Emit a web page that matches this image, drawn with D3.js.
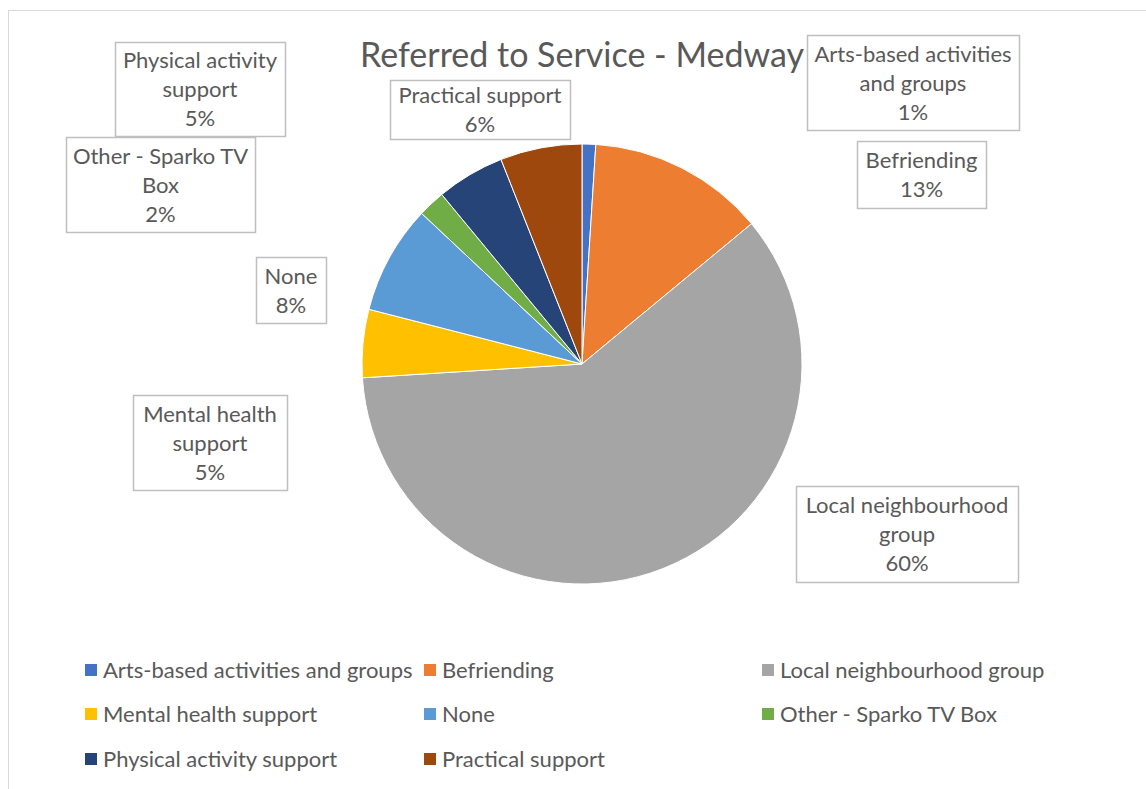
<!DOCTYPE html>
<html>
<head>
<meta charset="utf-8">
<script src="https://cdn.jsdelivr.net/npm/d3@7"></script>
<style>
  html, body { margin: 0; padding: 0; background: #fff; }
  svg { display: block; }
  text { font-family: Lato, "Open Sans", sans-serif; fill: #595959; }
</style>
</head>
<body>
<svg id="chart" width="1146" height="789"></svg>
<script>
// Referral counts shown as shares of all referrals (percent)
const categories = [
  "Arts-based activities and groups",
  "Befriending",
  "Local neighbourhood group",
  "Mental health support",
  "None",
  "Other - Sparko TV Box",
  "Physical activity support",
  "Practical support"
];
const shares = [1, 13, 60, 5, 8, 2, 5, 6];
const sliceColors = ["#4472C4", "#ED7D31", "#A5A5A5", "#FFC000", "#5B9BD5", "#70AD47", "#264478", "#9E480E"];

// Data-label text broken into lines, with the label box placement
const labelLines = [
  ["Arts-based activities", "and groups"],
  ["Befriending"],
  ["Local neighbourhood", "group"],
  ["Mental health", "support"],
  ["None"],
  ["Other - Sparko TV", "Box"],
  ["Physical activity", "support"],
  ["Practical support"]
];
const labelBoxes = [
  {x: 807, y: 35, w: 212, h: 95},
  {x: 857, y: 141, w: 129, h: 67},
  {x: 796, y: 486, w: 222, h: 96},
  {x: 133, y: 395, w: 154, h: 95},
  {x: 256, y: 257, w: 70, h: 66},
  {x: 66, y: 137, w: 189, h: 95},
  {x: 115, y: 42, w: 170, h: 94},
  {x: 390, y: 80, w: 180, h: 59}
];

const svg = d3.select("#chart");

// Chart area frame
svg.append("rect")
  .attr("x", 8.5).attr("y", 10.5)
  .attr("width", 1150).attr("height", 800)
  .attr("fill", "#fff")
  .attr("stroke", "#d9d9d9").attr("stroke-width", 1);

// Title
svg.append("text")
  .attr("x", 582).attr("y", 67)
  .attr("text-anchor", "middle")
  .style("font-size", "34px")
  .text("Referred to Service - Medway");

// Pie
const cx = 582, cy = 364, radius = 220;
const color = d3.scaleOrdinal().domain(categories).range(sliceColors);
const pie = d3.pie().value(d => d.value).sort(null);
const arc = d3.arc().innerRadius(0).outerRadius(radius);
const data = categories.map((c, i) => ({name: c, value: shares[i]}));

const g = svg.append("g").attr("transform", `translate(${cx},${cy})`);
g.selectAll("path")
  .data(pie(data))
  .join("path")
  .attr("d", arc)
  .attr("fill", d => color(d.data.name))
  .attr("stroke", "#fff")
  .attr("stroke-width", 1);

// Data labels
const fmt = d3.format(".0%");
const lab = svg.append("g").selectAll("g")
  .data(data)
  .join("g");
lab.append("rect")
  .attr("x", (d, i) => labelBoxes[i].x + 0.5)
  .attr("y", (d, i) => labelBoxes[i].y + 0.5)
  .attr("width", (d, i) => labelBoxes[i].w)
  .attr("height", (d, i) => labelBoxes[i].h)
  .attr("fill", "#fff")
  .attr("stroke", "#bfbfbf").attr("stroke-width", 1.5);
lab.each(function(d, i) {
  const b = labelBoxes[i];
  const lines = labelLines[i].concat([fmt(d.value / 100)]);
  const lh = 29;
  const y0 = b.y + b.h / 2 - (lines.length - 1) * lh / 2 + 8;
  d3.select(this).selectAll("text")
    .data(lines)
    .join("text")
    .attr("x", b.x + b.w / 2)
    .attr("y", (t, k) => y0 + k * lh)
    .attr("text-anchor", "middle")
    .style("font-size", "22px")
    .text(t => t);
});

// Legend
const legendCols = [85, 424, 762];
const legendRows = [670, 714, 759];
const leg = svg.append("g").selectAll("g")
  .data(categories)
  .join("g")
  .attr("transform", (d, i) => `translate(${legendCols[i % 3]},${legendRows[Math.floor(i / 3)]})`);
leg.append("rect")
  .attr("x", 0).attr("y", -6)
  .attr("width", 12).attr("height", 12)
  .attr("fill", d => color(d));
leg.append("text")
  .attr("x", 18).attr("y", 8)
  .style("font-size", "22px")
  .text(d => d);
</script>
</body>
</html>
